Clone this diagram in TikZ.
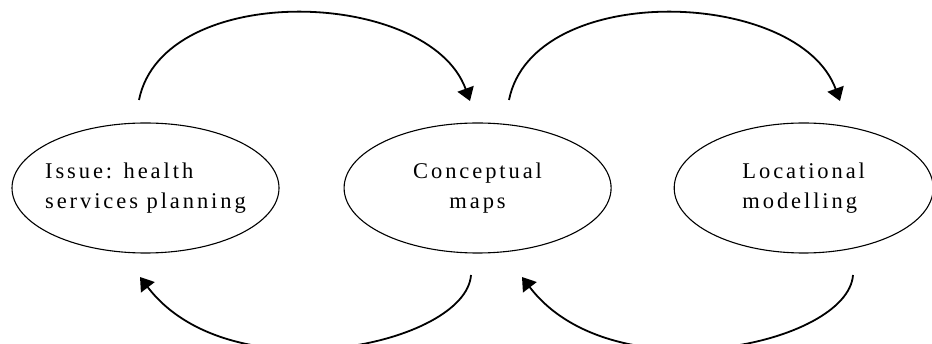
\documentclass[tikz,border=0pt]{standalone}
\usepackage{fontspec}
\setmainfont{Liberation Serif}
\usetikzlibrary{positioning,shapes.geometric,arrows.meta}
\tikzstyle{topic} = [
	ellipse,
	line width = 1.1pt,
	minimum width = 267pt,
	minimum height = 130pt,
	inner xsep = -12pt,
	align = left,
	font = \fontsize{22.5}{30}\selectfont\addfontfeature{LetterSpace=13},
	draw
	]
\tikzstyle{flow} = [
	-{Triangle[width=17pt,length=13pt]},
	line width = 1.8pt,
	draw
	]
\begin{document}
\begin{tikzpicture}[x=1pt,y=-1pt]
		\clip (0,0) rectangle (932,344);
		\node[topic] (issue) at (145.5,188) {Issue: health\\services planning};
		\node[topic, align=center, right=64pt of issue] (maps) {Conceptual\\maps};
		\node[topic, minimum width=259pt, right=62pt of maps] (model) {Locational\\modelling};
		% free ends of the loops
		\coordinate (up1s) at (139,100); \coordinate (up1e) at (470,101);
		\coordinate (up2s) at (509,100); \coordinate (up2e) at (840,101);
		\coordinate (dn1s) at (471,275); \coordinate (dn1e) at (140,277);
		\coordinate (dn2s) at (853,275); \coordinate (dn2e) at (522,277);
		\draw[flow] (up1s) .. controls +(24,-120) and +(-41,-113) .. (up1e);
		\draw[flow] (up2s) .. controls +(24,-120) and +(-41,-113) .. (up2e);
		\draw[flow] (dn1s) .. controls +(-5,70) and +(90,118) .. (dn1e);
		\draw[flow] (dn2s) .. controls +(-5,70) and +(90,118) .. (dn2e);
	\end{tikzpicture}
\end{document}
